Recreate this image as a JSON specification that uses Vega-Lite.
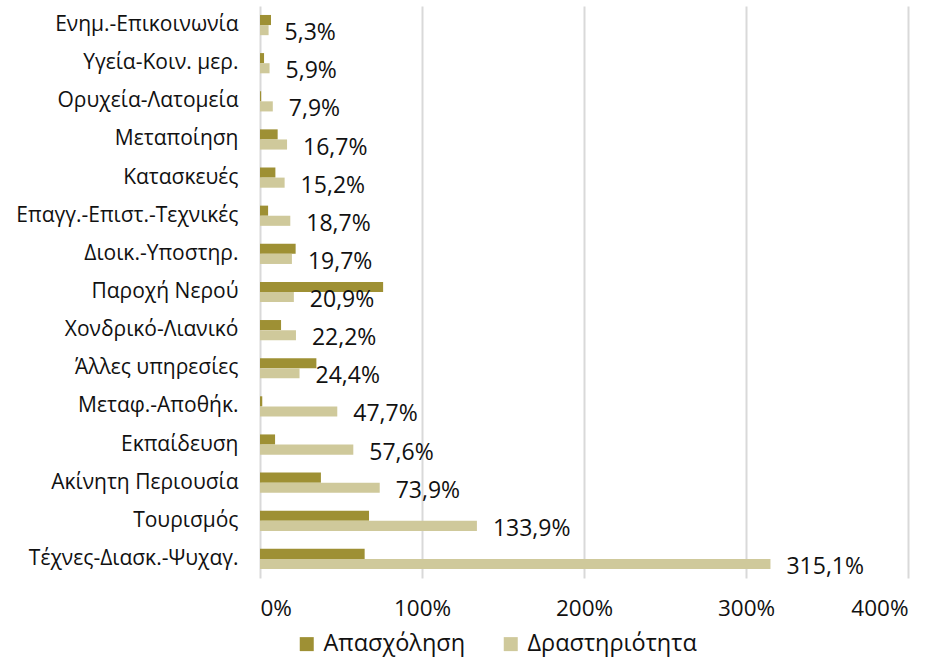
{
  "$schema": "https://vega.github.io/schema/vega-lite/v6.json",
  "width": 648,
  "height": 572,
  "autosize": "none",
  "padding": {"left": 260, "top": 6, "right": 33, "bottom": 80},
  "background": "white",
  "config": {
    "font": "Open Sans",
    "view": {"stroke": null}
  },
  "data": {
    "values": [
      {"cat": "Ενημ.-Επικοινωνία", "series": "Απασχόληση", "value": 6.8, "label": ""},
      {"cat": "Ενημ.-Επικοινωνία", "series": "Δραστηριότητα", "value": 5.3, "label": "5,3%"},
      {"cat": "Υγεία-Κοιν. μερ.", "series": "Απασχόληση", "value": 2.5, "label": ""},
      {"cat": "Υγεία-Κοιν. μερ.", "series": "Δραστηριότητα", "value": 5.9, "label": "5,9%"},
      {"cat": "Ορυχεία-Λατομεία", "series": "Απασχόληση", "value": 0.7, "label": ""},
      {"cat": "Ορυχεία-Λατομεία", "series": "Δραστηριότητα", "value": 7.9, "label": "7,9%"},
      {"cat": "Μεταποίηση", "series": "Απασχόληση", "value": 10.9, "label": ""},
      {"cat": "Μεταποίηση", "series": "Δραστηριότητα", "value": 16.7, "label": "16,7%"},
      {"cat": "Κατασκευές", "series": "Απασχόληση", "value": 9.5, "label": ""},
      {"cat": "Κατασκευές", "series": "Δραστηριότητα", "value": 15.2, "label": "15,2%"},
      {"cat": "Επαγγ.-Επιστ.-Τεχνικές", "series": "Απασχόληση", "value": 5.0, "label": ""},
      {"cat": "Επαγγ.-Επιστ.-Τεχνικές", "series": "Δραστηριότητα", "value": 18.7, "label": "18,7%"},
      {"cat": "Διοικ.-Υποστηρ.", "series": "Απασχόληση", "value": 22.0, "label": ""},
      {"cat": "Διοικ.-Υποστηρ.", "series": "Δραστηριότητα", "value": 19.7, "label": "19,7%"},
      {"cat": "Παροχή Νερού", "series": "Απασχόληση", "value": 76.0, "label": ""},
      {"cat": "Παροχή Νερού", "series": "Δραστηριότητα", "value": 20.9, "label": "20,9%"},
      {"cat": "Χονδρικό-Λιανικό", "series": "Απασχόληση", "value": 13.0, "label": ""},
      {"cat": "Χονδρικό-Λιανικό", "series": "Δραστηριότητα", "value": 22.2, "label": "22,2%"},
      {"cat": "Άλλες υπηρεσίες", "series": "Απασχόληση", "value": 34.8, "label": ""},
      {"cat": "Άλλες υπηρεσίες", "series": "Δραστηριότητα", "value": 24.4, "label": "24,4%"},
      {"cat": "Μεταφ.-Αποθήκ.", "series": "Απασχόληση", "value": 1.4, "label": ""},
      {"cat": "Μεταφ.-Αποθήκ.", "series": "Δραστηριότητα", "value": 47.7, "label": "47,7%"},
      {"cat": "Εκπαίδευση", "series": "Απασχόληση", "value": 9.3, "label": ""},
      {"cat": "Εκπαίδευση", "series": "Δραστηριότητα", "value": 57.6, "label": "57,6%"},
      {"cat": "Ακίνητη Περιουσία", "series": "Απασχόληση", "value": 37.6, "label": ""},
      {"cat": "Ακίνητη Περιουσία", "series": "Δραστηριότητα", "value": 73.9, "label": "73,9%"},
      {"cat": "Τουρισμός", "series": "Απασχόληση", "value": 67.3, "label": ""},
      {"cat": "Τουρισμός", "series": "Δραστηριότητα", "value": 133.9, "label": "133,9%"},
      {"cat": "Τέχνες-Διασκ.-Ψυχαγ.", "series": "Απασχόληση", "value": 64.6, "label": ""},
      {"cat": "Τέχνες-Διασκ.-Ψυχαγ.", "series": "Δραστηριότητα", "value": 315.1, "label": "315,1%"}
    ]
  },
  "encoding": {
    "y": {
      "field": "cat",
      "type": "nominal",
      "sort": null,
      "scale": {"paddingInner": 0.47, "paddingOuter": 0.235},
      "axis": {
        "title": null,
        "ticks": false,
        "domain": false,
        "labelFontSize": 21,
        "labelColor": "#111111",
        "labelPadding": 22,
        "labelLimit": 300
      }
    },
    "yOffset": {
      "field": "series",
      "type": "nominal",
      "sort": ["Απασχόληση", "Δραστηριότητα"],
      "scale": {"paddingInner": 0, "paddingOuter": 0}
    },
    "x": {
      "field": "value",
      "type": "quantitative",
      "scale": {"domain": [0, 400], "nice": false},
      "axis": {
        "title": null,
        "values": [0, 100, 200, 300, 400],
        "labelExpr": "datum.value + '%'",
        "grid": true,
        "gridColor": "#d9d9d9",
        "gridWidth": 2,
        "domain": false,
        "ticks": false,
        "labelFontSize": 22.5,
        "labelColor": "#111111",
        "labelPadding": 19
      }
    }
  },
  "layer": [
    {
      "mark": {"type": "bar"},
      "encoding": {
        "color": {
          "field": "series",
          "type": "nominal",
          "sort": ["Απασχόληση", "Δραστηριότητα"],
          "scale": {"domain": ["Απασχόληση", "Δραστηριότητα"], "range": ["#9e9034", "#cfc99b"]},
          "legend": {
            "title": null,
            "orient": "none",
            "direction": "horizontal",
            "legendX": 35,
            "legendY": 626,
            "symbolType": "square",
            "symbolSize": 196,
            "symbolStrokeWidth": 0,
            "symbolOpacity": 1,
            "labelFontSize": 23.5,
            "labelColor": "#111111",
            "labelOffset": 5,
            "columnPadding": 33,
            "labelLimit": 300
          }
        }
      }
    },
    {
      "transform": [{"filter": "datum.series === 'Δραστηριότητα'"}],
      "mark": {"type": "text", "align": "left", "baseline": "middle", "dx": 16, "dy": 3, "fontSize": 23, "color": "#111111"},
      "encoding": {
        "text": {"field": "label"}
      }
    }
  ]
}
